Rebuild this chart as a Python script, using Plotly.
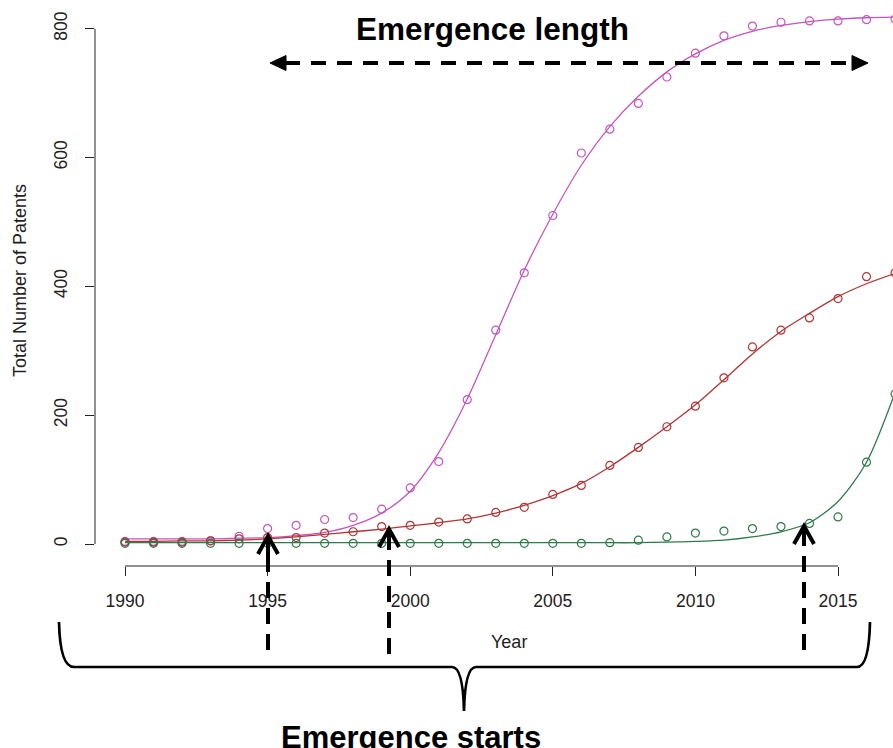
import plotly.graph_objects as go

# ---------------- data ----------------
years = list(range(1990, 2018))

magenta_obs = [4, 4, 4, 5, 12, 24, 29, 38, 41, 54, 87, 128, 224, 332, 421, 510,
               607, 644, 684, 725, 762, 789, 804, 810, 812, 812, 814, 815]
magenta_fit = [8, 8, 8, 8, 9, 10, 13, 18, 29, 48, 82, 142, 225, 325, 425, 512,
               588, 648, 695, 733, 761, 782, 796, 805, 811, 815, 817, 818]

red_obs = [3, 3, 3, 5, 8, 10, 10, 17, 19, 27, 29, 34, 39, 49, 57, 77,
           91, 122, 150, 182, 214, 258, 306, 332, 351, 381, 415, 421]
red_fit = [4, 4, 5, 5, 6, 8, 11, 15, 19, 23, 28, 33, 39, 48, 60, 75,
           94, 120, 150, 182, 216, 255, 295, 330, 358, 384, 404, 420]

green_obs = [1, 1, 1, 1, 1, 1, 1, 1, 1, 1, 1, 1, 1, 1, 1, 1,
             1, 2, 6, 11, 17, 20, 24, 27, 32, 42, 127, 233]
green_fit = [2, 2, 2, 2, 2, 2, 2, 2, 2, 2, 2, 2, 2, 2, 2, 2,
             2, 2, 2, 3, 4, 6, 11, 19, 33, 66, 127, 235]

x_ticks = [1990, 1995, 2000, 2005, 2010, 2015]
y_ticks = [0, 200, 400, 600, 800]

series = [
    ("magenta", magenta_obs, magenta_fit, "#C455BE"),
    ("red", red_obs, red_fit, "#B03535"),
    ("green", green_obs, green_fit, "#2E7A4C"),
]

# ---------------- layout geometry (screen pixels; body margin removed) ----------------
W, H = 893, 748
SL, SR, ST, SB = 95, 893, 0, 566          # plot area in pixels
FONT = "Liberation Sans, Arial, sans-serif"


def px(xs):
    return (xs - SL) / (SR - SL)


def py(ys):
    return (SB - ys) / (SB - ST)


fig = go.Figure()
for name, obs, fit, col in series:
    fig.add_trace(go.Scatter(x=years, y=fit, mode="lines", name=name + " fit",
                             line=dict(color=col, width=1.3, shape="spline", smoothing=0.8),
                             showlegend=False, hoverinfo="skip"))
    fig.add_trace(go.Scatter(x=years, y=obs, mode="markers", name=name,
                             marker=dict(symbol="circle-open", size=8, color=col,
                                         line=dict(width=1.2, color=col)),
                             showlegend=False))

shapes = []
# R-style detached axis lines
shapes.append(dict(type="line", xref="x", yref="paper", x0=x_ticks[0], x1=x_ticks[-1],
                   y0=0, y1=0, line=dict(color="#222", width=1)))
shapes.append(dict(type="line", xref="paper", yref="y", x0=0, x1=0,
                   y0=y_ticks[0], y1=y_ticks[-1], line=dict(color="#222", width=1)))

BLK = "#000"
# horizontal dashed double arrow
shapes.append(dict(type="line", xref="paper", yref="paper", x0=px(285), x1=px(852),
                   y0=py(63), y1=py(63), line=dict(color=BLK, width=4, dash="15px,11px")))


def tri(tipx, basex, yc, half):
    return (f"M {px(tipx)} {py(yc)} L {px(basex)} {py(yc - half)} "
            f"L {px(basex)} {py(yc + half)} Z")


shapes.append(dict(type="path", xref="paper", yref="paper", path=tri(270, 286, 63, 7.5),
                   fillcolor=BLK, line=dict(color=BLK, width=1)))
shapes.append(dict(type="path", xref="paper", yref="paper", path=tri(868, 852, 63, 7.5),
                   fillcolor=BLK, line=dict(color=BLK, width=1)))

# vertical dashed arrows with open heads
for ax, ay_tip, ay_bot in [(268, 536, 650), (389, 529, 654), (804, 526, 650)]:
    shapes.append(dict(type="line", xref="paper", yref="paper", x0=px(ax), x1=px(ax),
                       y0=py(ay_bot), y1=py(ay_tip + 2),
                       line=dict(color=BLK, width=4, dash="16px,10px")))
    shapes.append(dict(type="path", xref="paper", yref="paper",
                       path=(f"M {px(ax - 10)} {py(ay_tip + 18)} L {px(ax)} {py(ay_tip)} "
                             f"L {px(ax + 10)} {py(ay_tip + 18)}"),
                       line=dict(color=BLK, width=4)))
    shapes.append(dict(type="line", xref="paper", yref="paper", x0=px(ax), x1=px(ax),
                       y0=py(ay_tip + 20), y1=py(ay_tip + 2), line=dict(color=BLK, width=4)))

# curly brace
brace = (f"M {px(59)} {py(622)} Q {px(60)} {py(667)} {px(74)} {py(667)} "
         f"L {px(452)} {py(667)} Q {px(463)} {py(667)} {px(464)} {py(711)} "
         f"Q {px(465)} {py(667)} {px(476)} {py(667)} "
         f"L {px(857)} {py(667)} Q {px(869)} {py(667)} {px(870)} {py(622)}")
shapes.append(dict(type="path", xref="paper", yref="paper", path=brace,
                   line=dict(color=BLK, width=2.7)))

annotations = [
    dict(text="<b>Emergence length</b>", x=px(492), y=py(29), xref="paper", yref="paper",
         showarrow=False, font=dict(family=FONT, size=31.5, color=BLK), xanchor="center", yanchor="middle"),
    dict(text="<b>Emergence starts</b>", x=px(411), y=py(737), xref="paper", yref="paper",
         showarrow=False, font=dict(family=FONT, size=31, color=BLK), xanchor="center", yanchor="middle"),
    dict(text="Year", x=px(509), y=py(642), xref="paper", yref="paper", showarrow=False,
         font=dict(family=FONT, size=18, color="#222"), xanchor="center", yanchor="middle"),
    dict(text="Total Number of Patents", x=px(20), y=py(281), xref="paper", yref="paper",
         showarrow=False, textangle=-90, font=dict(family=FONT, size=18, color="#222"),
         xanchor="center", yanchor="middle"),
]

y_per = (544 - 28.7) / 800
x_per = (838 - 125) / 25

fig.update_layout(
    width=W, height=H,
    margin=dict(l=SL, r=W - SR, t=ST, b=H - SB, pad=0),
    paper_bgcolor="white", plot_bgcolor="white",
    shapes=shapes, annotations=annotations, showlegend=False,
    xaxis=dict(range=[1990 - (125 - SL) / x_per, 1990 + (SR - 125) / x_per],
               tickvals=x_ticks, ticktext=[str(v) for v in x_ticks],
               ticks="outside", ticklen=9, tickcolor="#222", tickwidth=1,
               showline=False, showgrid=False, zeroline=False,
               tickfont=dict(family=FONT, size=17.5, color="#222"), ticklabelstandoff=10),
    yaxis=dict(range=[-(SB - 544) / y_per, (544 - ST) / y_per],
               tickvals=y_ticks, ticktext=[str(v) for v in y_ticks],
               ticks="outside", ticklen=9, tickcolor="#222", tickwidth=1, tickangle=-90,
               showline=False, showgrid=False, zeroline=False,
               tickfont=dict(family=FONT, size=17.5, color="#222"), ticklabelstandoff=11),
)

fig.write_html(
    "out.html",
    config={"displayModeBar": False},
    post_script="document.body.style.margin='0';document.body.style.overflow='hidden';",
)
